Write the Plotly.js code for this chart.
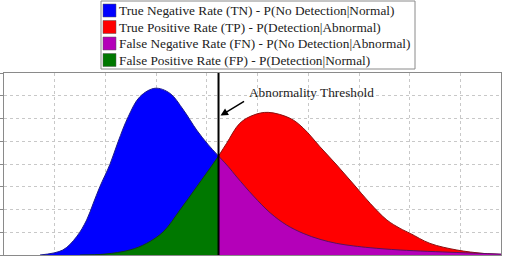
<!DOCTYPE html>
<html>
<head>
<meta charset="utf-8">
<script src="https://cdn.plot.ly/plotly-3.0.1.min.js"></script>
<style>
  html, body { margin: 0; padding: 0; background: #fff; }
  #chart { width: 519px; height: 256px; }
</style>
</head>
<body>
<div id="chart"></div>
<script>
// Score distribution of normal cases
const normalX = [0.71, 1.16, 1.43, 1.63, 1.76, 1.89, 2.09, 2.25, 2.45, 2.68, 2.98, 3.27, 3.54, 3.80, 4.03, 4.23,
                 4.42, 4.59, 4.92, 5.25, 5.57, 5.90, 6.23, 6.56, 6.89, 7.22, 7.81, 8.93, 9.80];
const normalY = [0.00, 0.22, 0.80, 1.54, 2.27, 3.00, 3.99, 4.98, 6.08, 6.96, 7.33, 7.11, 6.37, 5.49, 4.84, 4.35,
                 3.89, 3.43, 2.59, 1.85, 1.32, 0.95, 0.69, 0.51, 0.40, 0.32, 0.22, 0.11, 0.04];

// Score distribution of abnormal cases
const abnormalX = [1.50, 1.99, 2.48, 2.81, 3.14, 3.47, 3.80, 4.13, 4.23,
                   4.39, 4.65, 4.92, 5.21, 5.64, 5.90, 6.23, 6.56, 6.89, 7.22, 7.55, 7.81, 8.01, 8.40, 8.93, 9.45, 9.80];
const abnormalY = [0.00, 0.04, 0.22, 0.51, 1.02, 1.98, 3.00, 4.03, 4.35,
                   4.91, 5.79, 6.15, 6.27, 6.01, 5.58, 4.76, 3.96, 3.12, 2.27, 1.54, 1.17, 0.95, 0.51, 0.22, 0.07, 0.02];

// Decision threshold on the score axis
const threshold = 4.23;

const legendLabels = [
  'True Negative Rate (TN) - P(No Detection|Normal)',
  'True Positive Rate (TP) - P(Detection|Abnormal)',
  'False Negative Rate (FN) - P(No Detection|Abnormal)',
  'False Positive Rate (FP) - P(Detection|Normal)'
];
const legendColors = ['#0000ff', '#ff0000', '#b400b9', '#007800'];
const thresholdLabel = 'Abnormality Threshold';

// Split a curve into the part left / right of the threshold
function part(xs, ys, left) {
  const px = [], py = [];
  xs.forEach((x, i) => {
    if (left ? x <= threshold : x >= threshold) { px.push(x); py.push(ys[i]); }
  });
  return { x: px, y: py };
}

function area(seg, fillColor, lineColor) {
  return {
    type: 'scatter', mode: 'lines', x: seg.x, y: seg.y,
    fill: 'tozeroy', fillcolor: fillColor,
    line: { color: lineColor, width: 1, shape: 'spline', smoothing: 1 },
    showlegend: false, hoverinfo: 'skip'
  };
}

const traces = [
  area(part(normalX, normalY, true), legendColors[0], '#1c1c8a'),
  area(part(abnormalX, abnormalY, true), legendColors[3], '#123f12'),
  area(part(abnormalX, abnormalY, false), legendColors[1], '#8a1010'),
  area(part(normalX, normalY, false), legendColors[2], '#5a1060')
];

// plot area geometry (pixels) used to place the legend box in paper units
const W = 519, H = 256, mL = 4, mR = 18, mT = 73, mB = 1;
const pw = W - mL - mR, ph = H - mT - mB;
const paperX = px => (px - mL) / pw;
const paperY = py => (H - mB - py) / ph;

const serif = 'Liberation Serif, Times New Roman, serif';

const shapes = [
  { type: 'rect', xref: 'paper', yref: 'paper',
    x0: paperX(101), x1: paperX(415), y0: paperY(69), y1: paperY(1),
    line: { color: '#8a8a8a', width: 1 }, fillcolor: '#ffffff', layer: 'above' },
  { type: 'line', xref: 'x', yref: 'paper', x0: threshold, x1: threshold, y0: 0, y1: 1,
    line: { color: '#000000', width: 2 }, layer: 'above' }
];
const annotations = [];
const rowY = [10.5, 27, 43.5, 60];
legendLabels.forEach((lab, i) => {
  shapes.push({ type: 'rect', xref: 'paper', yref: 'paper',
    x0: paperX(103), x1: paperX(116), y0: paperY(rowY[i] + 6.5), y1: paperY(rowY[i] - 6.5),
    line: { color: '#555', width: 0.5 }, fillcolor: legendColors[i], layer: 'above' });
  annotations.push({ xref: 'paper', yref: 'paper', x: paperX(117), y: paperY(rowY[i]),
    xanchor: 'left', yanchor: 'middle', showarrow: false, text: lab,
    font: { family: serif, size: 13.3, color: '#222' } });
});
annotations.push({ x: 4.79, y: 7.16, xanchor: 'left', yanchor: 'middle', showarrow: false,
  text: thresholdLabel, font: { family: serif, size: 13.3, color: '#222' } });
annotations.push({ x: 4.27, y: 6.13, text: '', showarrow: true, ax: 25, ay: -15,
  arrowhead: 2, arrowsize: 1, arrowwidth: 1.5, arrowcolor: '#000', standoff: 0 });

const layout = {
  width: W, height: H,
  margin: { l: mL, r: mR, t: mT, b: mB, pad: 0 },
  paper_bgcolor: '#fff', plot_bgcolor: '#fff',
  showlegend: false,
  xaxis: { range: [0, 9.8], dtick: 1, tick0: 0, showticklabels: false, ticks: '',
    showgrid: true, gridcolor: '#c8c8c8', griddash: 'dot', gridwidth: 1,
    showline: true, mirror: true, linecolor: '#8a8a8a', linewidth: 1, zeroline: false },
  yaxis: { range: [0, 8], dtick: 1, tick0: 0, showticklabels: false, ticks: 'outside', ticklen: 3,
    tickcolor: '#8a8a8a', showgrid: true, gridcolor: '#c8c8c8', griddash: 'dot', gridwidth: 1,
    showline: true, mirror: true, linecolor: '#8a8a8a', linewidth: 1, zeroline: false },
  shapes: shapes, annotations: annotations
};

Plotly.newPlot('chart', traces, layout, { staticPlot: true, displayModeBar: false });
</script>
</body>
</html>
